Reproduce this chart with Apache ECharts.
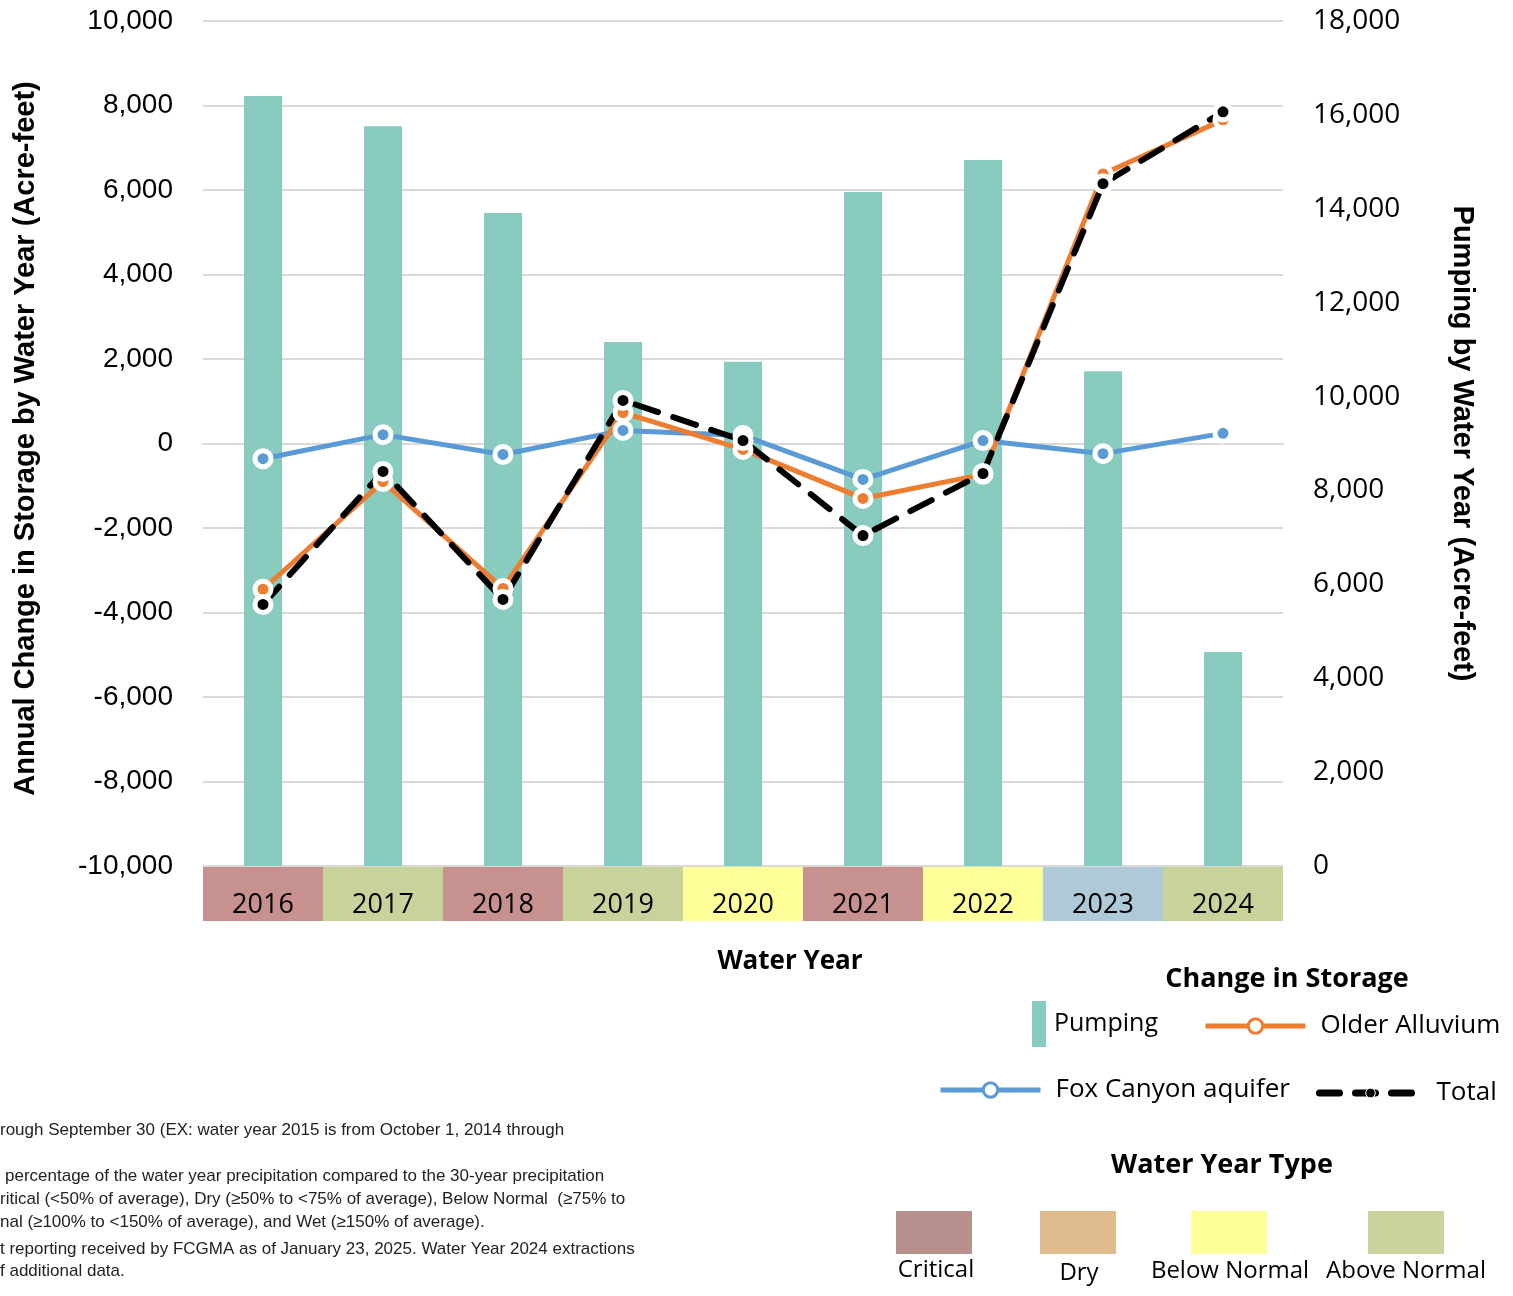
<!DOCTYPE html>
<html>
<head>
<meta charset="utf-8">
<script src="https://cdn.jsdelivr.net/npm/echarts@6.0.0/dist/echarts.min.js"></script>
<style>
  html, body { margin: 0; padding: 0; background: #fff; }
  #main { width: 1513px; height: 1296px; }
</style>
</head>
<body>
<div id="main"></div>
<script>
// water years and their type (for the coloured label boxes)
var years = ['2016', '2017', '2018', '2019', '2020', '2021', '2022', '2023', '2024'];
var yearTypes = ['Critical', 'Above Normal', 'Critical', 'Above Normal', 'Below Normal', 'Critical', 'Below Normal', 'Wet', 'Above Normal'];

// acre-feet
var pumping = [16400, 15760, 13910, 11160, 10740, 14360, 15040, 10540, 4560];
var foxCanyon = [-360, 210, -260, 310, 190, -850, 70, -240, 240];
var olderAlluvium = [-3450, -900, -3430, 730, -140, -1300, -730, 6380, 7660];
var total = [-3810, -660, -3690, 1020, 70, -2180, -710, 6150, 7850];

// legend of water year types
var typeNames = ['Critical', 'Dry', 'Below Normal', 'Above Normal'];

var axisBoxColors = {
  'Critical': '#c79190',
  'Above Normal': '#c8d39c',
  'Below Normal': '#ffff99',
  'Wet': '#aecad8'
};
var legendBoxColors = ['#b8918f', '#debb8d', '#ffff99', '#c9d39d'];

// one rich style per year so every label box gets its own colour
var rich = {};
years.forEach(function (y, i) {
  rich['t' + i] = {
    backgroundColor: axisBoxColors[yearTypes[i]],
    width: 120,
    height: 32,
    lineHeight: 32,
    padding: [22, 0, 0, 0],
    align: 'center',
    fontSize: 27,
    fontFamily: 'Open Sans',
    color: '#000'
  };
});

var legendText = { fontSize: 26, fontFamily: 'Open Sans', color: '#000', padding: [0, 0, 0, 10] };

var myChart = echarts.init(document.getElementById('main'));

var graphics = [];
var boxX = [896, 1040, 1191, 1368];
var labelCx = [936, 1079, 1230, 1406];
var labelY = [1270, 1273, 1271, 1271];
typeNames.forEach(function (n, i) {
  graphics.push({
    type: 'rect', left: boxX[i], top: 1211,
    shape: { width: 76, height: 43 },
    style: { fill: legendBoxColors[i] }
  });
  graphics.push({
    type: 'text', x: labelCx[i], y: labelY[i],
    style: { text: n, fill: '#000', font: '24px "Open Sans"', textAlign: 'center', textVerticalAlign: 'middle' }
  });
});

// footnotes (cut off at the left edge in the source)
var notes = [
  ['rough September 30 (EX: water year 2015 is from October 1, 2014 through', 0, 1130],
  ['percentage of the water year precipitation compared to the 30-year precipitation', 5, 1176],
  ['ritical (<50% of average), Dry (\u226550% to <75% of average), Below Normal  (\u226575% to', 0, 1199],
  ['nal (\u2265100% to <150% of average), and Wet (\u2265150% of average).', 0, 1222],
  ['t reporting received by FCGMA as of January 23, 2025. Water Year 2024 extractions', 0, 1249],
  ['f additional data.', 0, 1271]
];
notes.forEach(function (n) {
  graphics.push({
    type: 'text', x: n[1], y: n[2],
    style: { text: n[0], fill: '#222', font: '17px "Liberation Sans"', textVerticalAlign: 'middle' }
  });
});

var option = {
  animation: false,
  backgroundColor: '#fff',
  title: [
    {
      text: 'Change in Storage', left: 1287, top: 966, textAlign: 'center', padding: 0,
      textStyle: { fontSize: 27, fontWeight: 'bold', fontFamily: 'Open Sans', color: '#000' }
    },
    {
      text: 'Water Year Type', left: 1222, top: 1152, textAlign: 'center', padding: 0,
      textStyle: { fontSize: 27, fontWeight: 'bold', fontFamily: 'Open Sans', color: '#000' }
    }
  ],
  legend: [
    {
      data: ['Pumping'], left: 1032, top: 1001, padding: 0, itemWidth: 14, itemHeight: 46, icon: 'rect',
      textStyle: { fontSize: 25, fontFamily: 'Open Sans', color: '#000', padding: [0, 0, 0, 3] }
    },
    {
      data: [{ name: 'Older Alluvium', itemStyle: { color: '#fff', borderColor: '#ed7d31', borderWidth: 3 } }],
      left: 1203, top: 1013, padding: 0, itemWidth: 100, itemHeight: 18, textStyle: legendText,
      lineStyle: { width: 5, color: '#ed7d31' }
    },
    {
      data: [{ name: 'Fox Canyon aquifer', itemStyle: { color: '#fff', borderColor: '#5b9bd5', borderWidth: 3 } }],
      left: 938, top: 1077, padding: 0, itemWidth: 100, itemHeight: 18, textStyle: legendText,
      lineStyle: { width: 5, color: '#5b9bd5' }
    },
    {
      data: [{ name: 'Total', itemStyle: { color: '#000', borderColor: '#fff', borderWidth: 1 } }],
      left: 1316, top: 1080, padding: 0, itemWidth: 102, itemHeight: 12, textStyle: legendText,
      lineStyle: { width: 7, color: '#000', type: [20, 16] }
    }
  ],
  grid: { left: 203, right: 230, top: 21, bottom: 430 },
  xAxis: {
    type: 'category',
    data: years,
    name: 'Water Year',
    nameLocation: 'middle',
    nameGap: 83,
    nameTextStyle: { fontSize: 26, fontWeight: 'bold', fontFamily: 'Open Sans', color: '#000', padding: [0, 0, 0, 94] },
    axisLine: { lineStyle: { color: '#d9d9d9', width: 2 } },
    axisTick: { show: false },
    axisLabel: {
      margin: 12,
      interval: 0,
      formatter: function (v, i) { return '{t' + i + '|' + v + '}'; },
      rich: rich
    }
  },
  yAxis: [
    {
      type: 'value',
      min: -10000, max: 10000, interval: 2000,
      name: 'Annual Change in Storage by Water Year (Acre-feet)',
      nameLocation: 'middle',
      nameRotate: 90,
      nameGap: 163,
      nameTextStyle: { fontSize: 29, fontWeight: 'bold', fontFamily: 'Liberation Sans', color: '#000', padding: [0, 0, 0, 10] },
      axisLine: { show: false },
      axisTick: { show: false },
      axisLabel: {
        margin: 30, fontSize: 28, fontFamily: 'Liberation Sans', color: '#000',
        formatter: function (v) { return v.toLocaleString('en-US'); }
      },
      splitLine: { lineStyle: { color: '#d9d9d9', width: 2 } }
    },
    {
      type: 'value',
      min: 0, max: 18000, interval: 2000,
      name: 'Pumping by Water Year (Acre-feet)',
      nameLocation: 'middle',
      nameRotate: -90,
      nameGap: 164,
      nameTextStyle: { fontSize: 29, fontWeight: 'bold', fontFamily: 'Liberation Sans', color: '#000' },
      axisLine: { show: false },
      axisTick: { show: false },
      axisLabel: {
        margin: 30, fontSize: 28, fontFamily: 'Open Sans', color: '#000',
        formatter: function (v) { return v.toLocaleString('en-US'); }
      },
      splitLine: { show: false }
    }
  ],
  series: [
    {
      name: 'Pumping',
      type: 'bar',
      yAxisIndex: 1,
      barWidth: 38,
      itemStyle: { color: '#88cbbf' },
      data: pumping
    },
    {
      name: 'Fox Canyon aquifer',
      type: 'line',
      symbol: 'circle', symbolSize: 16,
      lineStyle: { color: '#5b9bd5', width: 5 },
      itemStyle: { color: '#5b9bd5', borderColor: '#fff', borderWidth: 5 },
      data: foxCanyon
    },
    {
      name: 'Older Alluvium',
      type: 'line',
      symbol: 'circle', symbolSize: 16,
      lineStyle: { color: '#ed7d31', width: 5 },
      itemStyle: { color: '#ed7d31', borderColor: '#fff', borderWidth: 5 },
      data: olderAlluvium
    },
    {
      name: 'Total',
      type: 'line',
      symbol: 'circle', symbolSize: 16,
      lineStyle: { color: '#000', width: 6, type: [24, 16], cap: 'round' },
      itemStyle: { color: '#000', borderColor: '#fff', borderWidth: 5 },
      data: total
    }
  ],
  graphic: graphics
};

myChart.setOption(option);
window.onresize = myChart.resize;
</script>
</body>
</html>
